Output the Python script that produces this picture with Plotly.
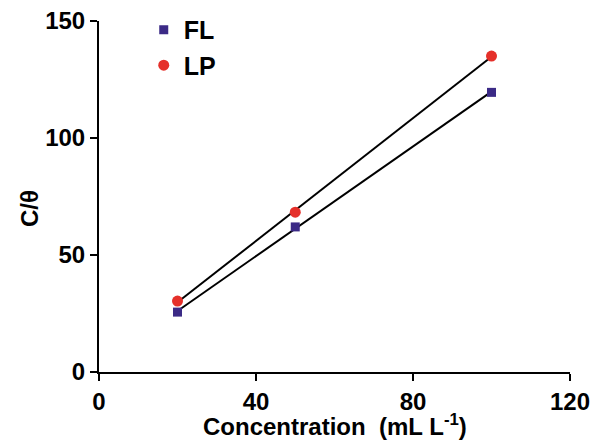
import numpy as np
import plotly.graph_objects as go

conc = [20, 50, 100]
fl_vals = [25.6, 62.0, 119.5]
lp_vals = [30.3, 68.3, 135.0]

fig = go.Figure()

def fit_line(x, y):
    k, b = np.polyfit(x, y, 1)
    xs = [min(x), max(x)]
    return xs, [k * v + b for v in xs]

for vals in (fl_vals, lp_vals):
    xs, ys = fit_line(conc, vals)
    fig.add_trace(go.Scatter(x=xs, y=ys, mode="lines", line=dict(color="black", width=2),
                             showlegend=False, hoverinfo="skip"))

fig.add_trace(go.Scatter(x=conc, y=fl_vals, mode="markers", name="FL",
                         marker=dict(symbol="square", size=9, color="#3b2a86")))
fig.add_trace(go.Scatter(x=conc, y=lp_vals, mode="markers", name="LP",
                         marker=dict(symbol="circle", size=11, color="#e5302a")))

font_fam = "Liberation Sans, Arial, sans-serif"
title_font = dict(size=24, family=font_fam, weight="bold", color="black")
fig.update_layout(
    width=605, height=444,
    margin=dict(l=91, r=43, t=13, b=80, autoexpand=False),
    paper_bgcolor="white", plot_bgcolor="white",
    font=dict(family=font_fam, color="black"),
    legend=dict(x=0.095, y=1.04, xanchor="left", yanchor="top",
                font=dict(size=25, family=font_fam, weight="bold"),
                bgcolor="rgba(0,0,0,0)", itemwidth=30, tracegroupgap=0),
    xaxis=dict(range=[0, 120], tickvals=[0, 40, 80, 120], showgrid=False, zeroline=False,
               showline=True, linecolor="black", linewidth=2, ticks="outside", ticklen=7,
               tickwidth=2, tickcolor="black", automargin=False, ticklabeloverflow="allow",
               tickfont=dict(size=24, family=font_fam, weight="bold")),
    yaxis=dict(range=[0, 150], tickvals=[0, 50, 100, 150], showgrid=False, zeroline=False,
               showline=True, linecolor="black", linewidth=2, ticks="outside", ticklen=7,
               tickwidth=2, tickcolor="black", automargin=False, ticklabeloverflow="allow",
               tickfont=dict(size=24, family=font_fam, weight="bold")),
)

fig.add_annotation(text="Concentration  (mL L<sup>-1</sup>)", xref="paper", yref="paper",
                   x=0.5, y=0, xanchor="center", yanchor="top", yshift=-36,
                   showarrow=False, font=title_font)
fig.add_annotation(text="C/θ", xref="paper", yref="paper", x=0, y=0.5,
                   xanchor="right", yanchor="middle", xshift=-54, yshift=-12,
                   textangle=-90, showarrow=False, font=title_font)

fig.write_html("out.html")
